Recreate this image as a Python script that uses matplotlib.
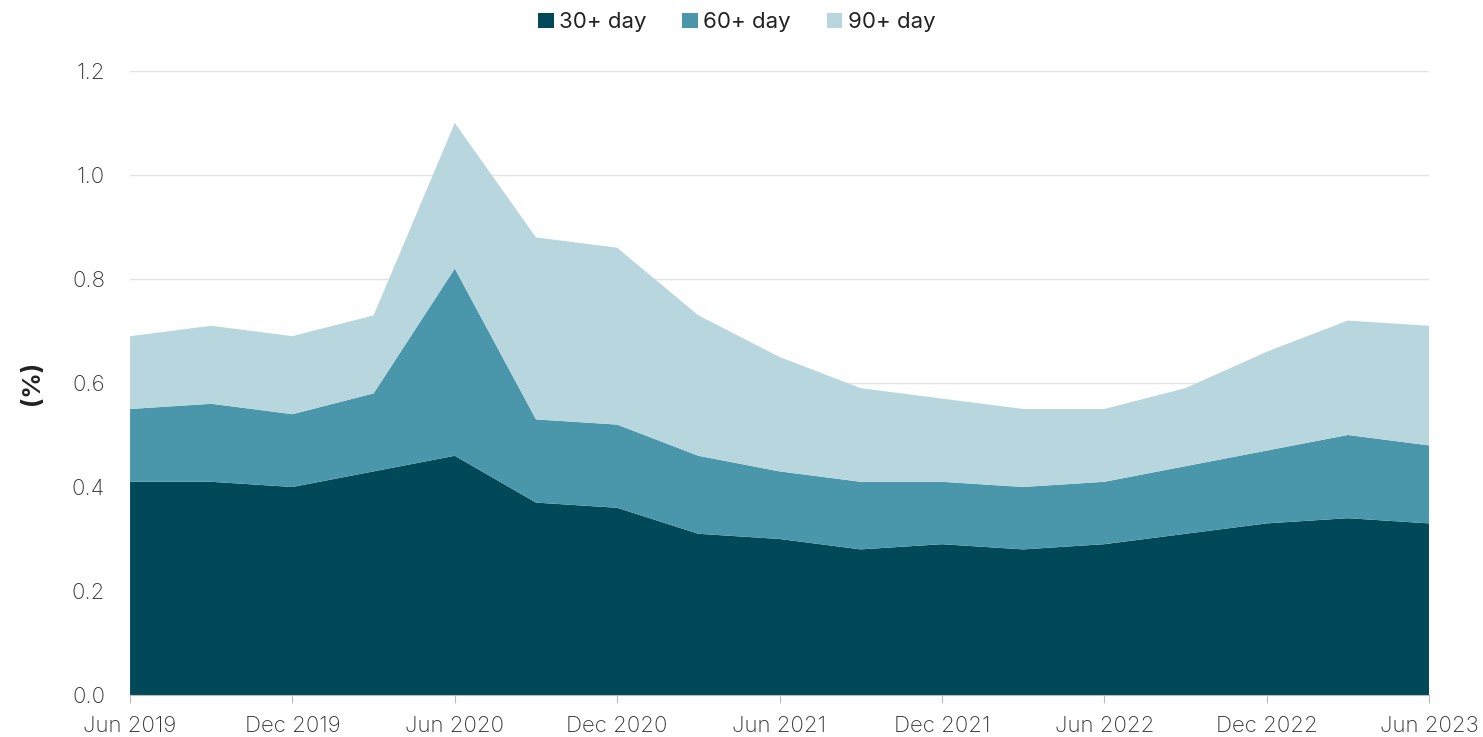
import matplotlib
matplotlib.use("Agg")
import matplotlib.pyplot as plt

quarters = ["Jun 2019", "Sep 2019", "Dec 2019", "Mar 2020", "Jun 2020", "Sep 2020",
            "Dec 2020", "Mar 2021", "Jun 2021", "Sep 2021", "Dec 2021", "Mar 2022",
            "Jun 2022", "Sep 2022", "Dec 2022", "Mar 2023", "Jun 2023"]
day30 = [0.41, 0.41, 0.40, 0.43, 0.46, 0.37, 0.36, 0.31, 0.30, 0.28, 0.29, 0.28, 0.29, 0.31, 0.33, 0.34, 0.33]
day60 = [0.14, 0.15, 0.14, 0.15, 0.36, 0.16, 0.16, 0.15, 0.13, 0.13, 0.12, 0.12, 0.12, 0.13, 0.14, 0.16, 0.15]
day90 = [0.14, 0.15, 0.15, 0.15, 0.28, 0.35, 0.34, 0.27, 0.22, 0.18, 0.16, 0.15, 0.14, 0.15, 0.19, 0.22, 0.23]
series_names = ["30+ day", "60+ day", "90+ day"]
colors = ["#014958", "#4A97AB", "#B8D6DD"]
yticks = [0.0, 0.2, 0.4, 0.6, 0.8, 1.0, 1.2]

plt.rcParams['font.family'] = ['Inter', 'DejaVu Sans']

fig = plt.figure(figsize=(14.83, 7.37), dpi=100)
ax = fig.add_axes([0.0877, 0.057, 0.8759, 0.8467])

x = list(range(len(quarters)))
ax.stackplot(x, day30, day60, day90, colors=colors, labels=series_names, linewidth=0)

ax.set_xlim(0, len(quarters) - 1)
ax.set_ylim(0, 1.2)
ax.set_yticks(yticks)
ax.set_yticklabels([f"{v:.1f}" for v in yticks], fontsize=16, color="#333333", fontweight="light")
ax.set_xticks(x[::2])
ax.set_xticklabels(quarters[::2], fontsize=16, color="#333333", fontweight="light")
ax.grid(axis="y", color="#e3e3e3", linewidth=1)
ax.set_axisbelow(True)
for s in ["top", "right", "left"]:
    ax.spines[s].set_visible(False)
ax.spines["bottom"].set_color("#bbbbbb")
ax.tick_params(axis="y", length=0, pad=18)
ax.tick_params(axis="x", length=6, color="#bbbbbb", pad=9)
ax.set_ylabel("(%)", fontsize=18, fontweight="bold", color="#222222", labelpad=20)

leg = ax.legend(loc="lower center", bbox_to_anchor=(0.467, 1.048), ncol=3, frameon=False,
                fontsize=16, handlelength=0.7, handleheight=0.7, handletextpad=0.25,
                columnspacing=1.6, borderaxespad=0)
for t in leg.get_texts():
    t.set_color("#222222")

fig.savefig("out.png", dpi=100)
